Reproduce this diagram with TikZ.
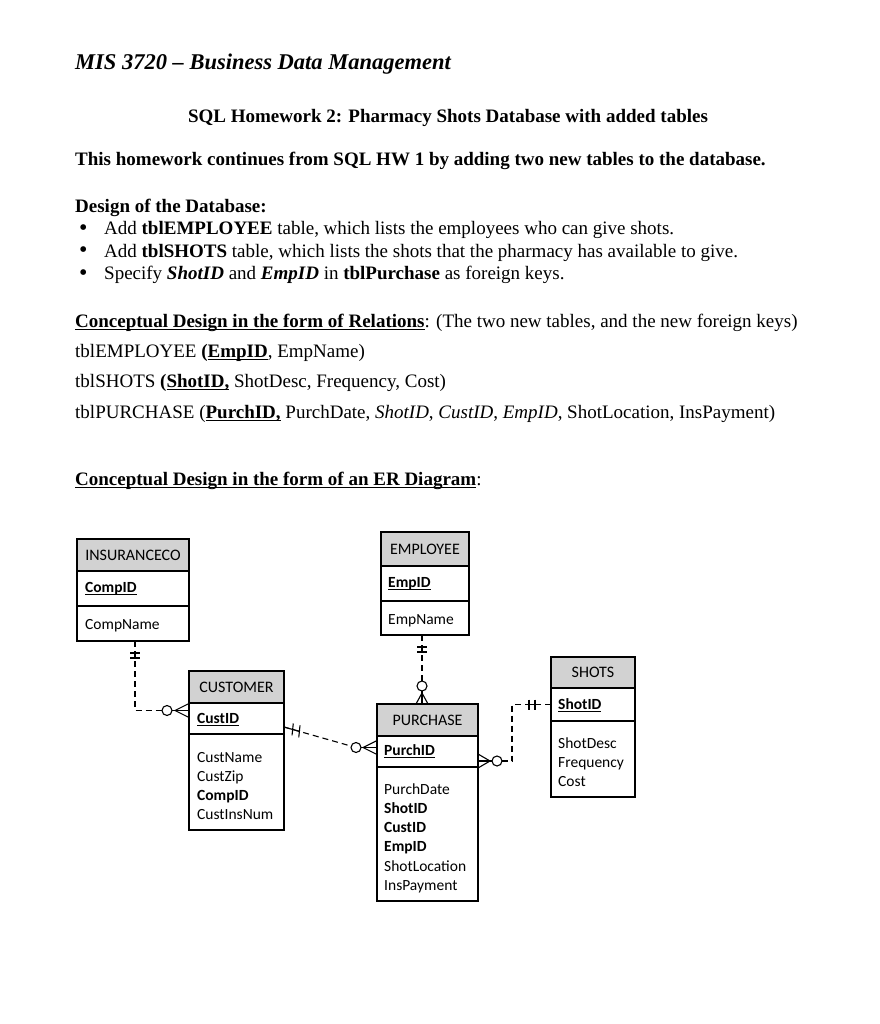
\documentclass[tikz,border=0pt]{standalone}
\usepackage{fontspec}
\setmainfont{Liberation Serif}
\newfontfamily\erfont{Carlito}
\usetikzlibrary{calc}
\newcommand\uln[1]{\setbox0\hbox{#1}\rlap{\rule[-3pt]{\wd0}{1.3pt}}\box0\relax}
\newcommand\ulner[1]{\setbox0\hbox{#1}\rlap{\rule[-2.6pt]{\wd0}{1.1pt}}\box0\relax}
\tikzset{
  body/.style={anchor=base west, inner sep=0pt, font=\fontsize{19}{22}\selectfont},
  hdr/.style={draw, line width=1.1pt, fill=gray!35, anchor=north west, inner sep=0pt, outer sep=0pt, font=\erfont\fontsize{16}{19}\selectfont},
  rowbox/.style={draw, line width=1.1pt, anchor=north west, inner sep=0pt, outer sep=0pt},
  ertxt/.style={anchor=base west, inner sep=0pt, font=\erfont\fontsize{15.5}{19}\selectfont},
  rel/.style={line width=1.1pt, dash pattern=on 6pt off 4pt},
  tick/.style={line width=1.1pt},
}
\newcommand\entbox[8]{%
  \node[hdr, minimum width=#4, minimum height=#5] (#1h) at (#2,#3) {#8};
  \node[rowbox, minimum width=#4, minimum height=#6] (#1k) at (#1h.south west) {};
  \node[rowbox, minimum width=#4, minimum height=#7] (#1a) at (#1k.south west) {};
}
\begin{document}
\begin{tikzpicture}[x=1pt, y=-1pt]
\fill[white] (0,0) rectangle (879,1024);
\useasboundingbox (0,0) rectangle (879,1024);

% ---- document text ----
\node[body, font=\fontsize{22.5}{26}\selectfont\bfseries\itshape] (title) at (75,70) {MIS 3720 -- Business Data Management};
\node[anchor=base, inner sep=0pt, font=\fontsize{19}{22}\selectfont\bfseries] (sub) at (448,123) {SQL Homework 2: Pharmacy Shots Database with added tables};
\node[body, font=\fontsize{19}{22}\selectfont\bfseries] (intro) at (75,166) {This homework continues from SQL HW 1 by adding two new tables to the database.};
\node[body, font=\fontsize{19}{22}\selectfont\bfseries] (design) at (75,213) {Design of the Database:};
\node[body, font=\fontsize{24}{22}\selectfont] (b1) at (79,236) {\textbullet};
\node[body] (t1) at (104,235) {Add \textbf{tblEMPLOYEE} table, which lists the employees who can give shots.};
\node[body, font=\fontsize{24}{22}\selectfont] (b2) at (79,258) {\textbullet};
\node[body] (t2) at (104,257) {Add \textbf{tblSHOTS} table, which lists the shots that the pharmacy has available to give.};
\node[body, font=\fontsize{24}{22}\selectfont] (b3) at (79,280) {\textbullet};
\node[body] (t3) at (104,279) {Specify \textbf{\textit{ShotID}} and \textbf{\textit{EmpID}} in \textbf{tblPurchase} as foreign keys.};
\node[body] (rel) at (75,327) {\uln{\textbf{Conceptual Design in the form of Relations}}: (The two new tables, and the new foreign keys)};
\node[body] (r1) at (75,357) {tblEMPLOYEE \textbf{(\uln{EmpID}}, EmpName)};
\node[body] (r2) at (75,387) {tblSHOTS \textbf{(\uln{ShotID,}} ShotDesc, Frequency, Cost)};
\node[body] (r3) at (75,418) {tblPURCHASE (\uln{\textbf{PurchID,}} PurchDate, \textit{ShotID}, \textit{CustID}, \textit{EmpID}, ShotLocation, InsPayment)};
\node[body] (er) at (75,485) {\uln{\textbf{Conceptual Design in the form of an ER Diagram}}:};

% ---- entities ----
\entbox{ins}{77}{539}{112}{32}{35}{35}{INSURANCECO}
\entbox{emp}{381}{532}{88}{34}{35}{34}{EMPLOYEE}
\entbox{cust}{189}{671}{95}{32}{31}{96}{CUSTOMER}
\entbox{pur}{377}{704}{101}{32}{31}{134}{PURCHASE}
\entbox{shot}{551}{657}{84}{31}{33}{76}{SHOTS}

\node[ertxt] (insid) at (85,592) {\ulner{\textbf{CompID}}};
\node[ertxt] (insn) at (85,629) {CompName};
\node[ertxt] (empid) at (388,587) {\ulner{\textbf{EmpID}}};
\node[ertxt] (empn) at (388,624) {EmpName};
\node[ertxt] (custid) at (197,723) {\ulner{\textbf{CustID}}};
\node[ertxt] (ca1) at (197,762) {CustName};
\node[ertxt] (ca2) at (197,781) {CustZip};
\node[ertxt] (ca3) at (197,800) {\textbf{CompID}};
\node[ertxt] (ca4) at (197,819) {CustInsNum};
\node[ertxt] (purid) at (384,755) {\ulner{\textbf{PurchID}}};
\node[ertxt] (pa1) at (384,794) {PurchDate};
\node[ertxt] (pa2) at (384,813) {\textbf{ShotID}};
\node[ertxt] (pa3) at (384,832) {\textbf{CustID}};
\node[ertxt] (pa4) at (384,851) {\textbf{EmpID}};
\node[ertxt] (pa5) at (384,871) {ShotLocation};
\node[ertxt] (pa6) at (384,890) {InsPayment};
\node[ertxt] (shotid) at (558,709) {\ulner{\textbf{ShotID}}};
\node[ertxt] (sa1) at (558,748) {ShotDesc};
\node[ertxt] (sa2) at (558,767) {Frequency};
\node[ertxt] (sa3) at (558,786) {Cost};

% ---- INSURANCECO -> CUSTOMER ----
\coordinate (c1) at ($(insa.south)+(2,0)$);
\coordinate (c1e) at ($(custk.west)+(0,-8)$);
\coordinate (c1o) at ($(c1e)+(-22,0)$);
\draw[rel] (c1) |- ($(c1o)+(-5,0)$);
\draw[tick] ($(c1)+(-5,12)$) -- ($(c1)+(5,12)$);
\draw[tick] ($(c1)+(-5,17)$) -- ($(c1)+(5,17)$);
\draw[tick] (c1o) circle[radius=5];
\draw[tick] ($(c1e)+(-14,0)$) -- ($(c1e)+(0,-7)$);
\draw[tick] ($(c1e)+(-17,0)$) -- (c1e);
\draw[tick] ($(c1e)+(-14,0)$) -- ($(c1e)+(0,7)$);

% ---- EMPLOYEE -> PURCHASE ----
\coordinate (c2) at ($(empa.south)+(-3,0)$);
\coordinate (c2e) at (c2 |- purh.north);
\coordinate (c2o) at ($(c2e)+(0,-18)$);
\draw[rel] (c2) -- ($(c2o)+(0,-5)$);
\draw[tick] ($(c2)+(-5,12)$) -- ($(c2)+(5,12)$);
\draw[tick] ($(c2)+(-5,17)$) -- ($(c2)+(5,17)$);
\draw[tick] (c2o) circle[radius=5];
\draw[tick] ($(c2e)+(0,-11)$) -- ($(c2e)+(-6,0)$);
\draw[tick] ($(c2e)+(0,-13)$) -- (c2e);
\draw[tick] ($(c2e)+(0,-11)$) -- ($(c2e)+(6,0)$);

% ---- CUSTOMER -> PURCHASE ----
\coordinate (c3) at ($(custk.east)+(0,8.5)$);
\coordinate (c3e) at ($(purk.west)+(0,-4)$);
\coordinate (c3o) at ($(c3e)+(-21,0)$);
\draw[rel] (c3) -- ($(c3o)!5pt!(c3)$);
\coordinate (h1) at ($(c3)!9pt!(c3o)$);
\coordinate (h2) at ($(c3)!16pt!(c3o)$);
\draw[tick] (c3) -- (h2);
\draw[tick] ($(h1)!6pt!100:(c3o)$) -- ($(h1)!6pt!-80:(c3o)$);
\draw[tick] ($(h2)!6pt!100:(c3o)$) -- ($(h2)!6pt!-80:(c3o)$);
\draw[tick] (c3o) circle[radius=5];
\draw[tick] ($(c3e)+(-14,0)$) -- ($(c3e)+(0,-7)$);
\draw[tick] ($(c3e)+(-16,0)$) -- (c3e);
\draw[tick] ($(c3e)+(-14,0)$) -- ($(c3e)+(0,7)$);

% ---- SHOTS -> PURCHASE ----
\coordinate (c4) at (shotk.west);
\coordinate (c4c) at ($(c4)+(-39,0)$);
\coordinate (c4e) at ($(purk.east)+(0,9.5)$);
\coordinate (c4o) at ($(c4e)+(19,0)$);
\draw[rel] (c4) -- (c4c) |- ($(c4o)+(5,0)$);
\draw[tick] ($(c4)+(-16,0)$) -- ($(c4)+(-22,0)$);
\draw[tick] ($(c4)+(-16,-5)$) -- ($(c4)+(-16,5)$);
\draw[tick] ($(c4)+(-22,-5)$) -- ($(c4)+(-22,5)$);
\draw[tick] (c4o) circle[radius=5];
\draw[tick] ($(c4e)+(12,0)$) -- ($(c4e)+(0,-7)$);
\draw[tick] ($(c4e)+(14,0)$) -- (c4e);
\draw[tick] ($(c4e)+(12,0)$) -- ($(c4e)+(0,7)$);
\end{tikzpicture}
\end{document}
